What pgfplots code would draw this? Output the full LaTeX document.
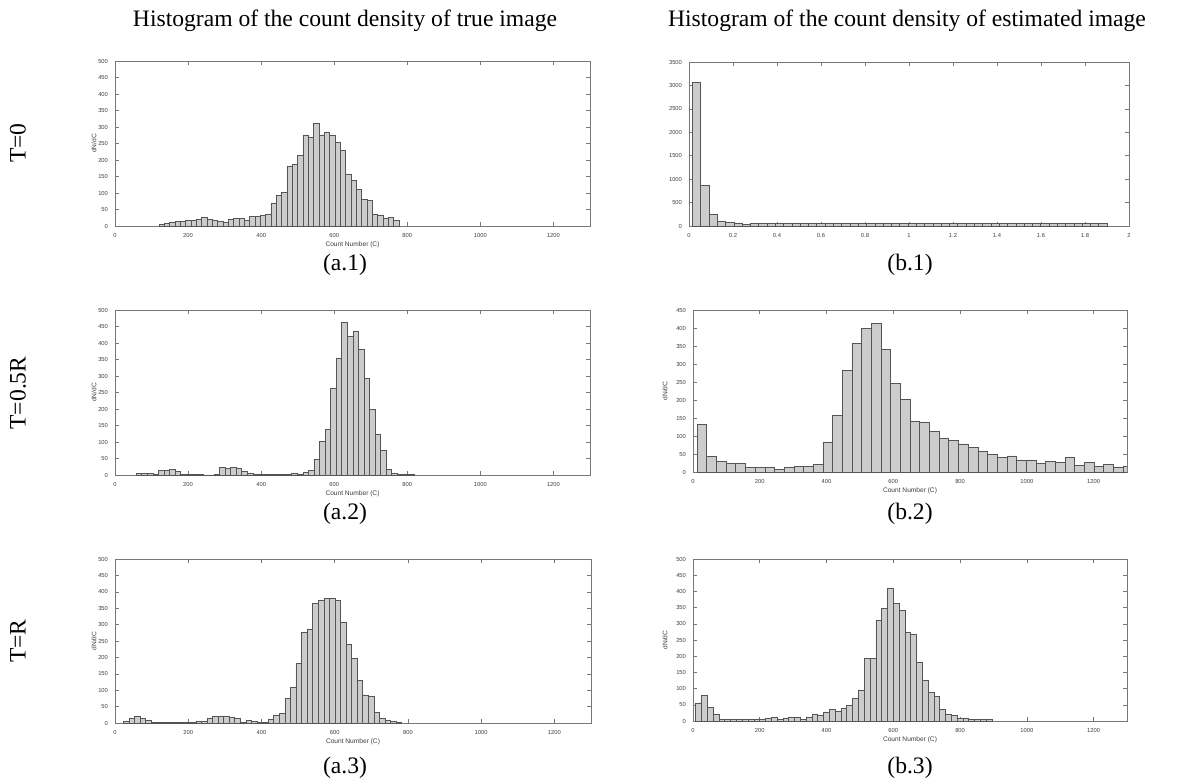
\documentclass[border=0pt]{standalone}
\usepackage{pgfplots}
\pgfplotsset{compat=1.18}
\usepackage{pgfplotstable}
\usepackage{fontspec}
\setmainfont{Liberation Serif}
\newfontfamily\ticksf{Liberation Sans}

\definecolor{barfill}{RGB}{204,204,204}
\definecolor{baredge}{RGB}{85,85,85}
\definecolor{axcol}{RGB}{120,120,120}
\definecolor{lblcol}{RGB}{60,60,60}

% histogram bins: left edge x, count y (last row closes the final bin)
\pgfplotstableread{
x y
120 4
134.6 7
149.2 11
163.8 15
178.4 13
193 16
207.6 18
222.2 20
236.8 26
251.4 21
266 16
280.6 14
295.2 10
309.8 20
324.4 22
339 22
353.6 16
368.2 30
382.8 30
397.4 32
412 37
426.6 70
441.2 92
455.8 103
470.4 182
485 187
499.6 213
514.2 276
528.8 270
543.4 312
558 276
572.6 285
587.2 274
601.8 253
616.4 230
631 158
645.6 139
660.2 110
674.8 80
689.4 77
704 37
718.6 34
733.2 24
747.8 26
762.4 16
777 0
}\tabAone

\pgfplotstableread{
x y
0.015 3058
0.0527 868
0.0904 245
0.1281 110
0.1658 88
0.2035 65
0.2412 38
0.2789 50
0.3166 50
0.3543 50
0.392 50
0.4297 50
0.4674 65
0.5051 50
0.5428 60
0.5805 60
0.6182 65
0.6559 65
0.6936 65
0.7313 65
0.769 65
0.8067 65
0.8444 65
0.8821 65
0.9198 65
0.9575 65
0.9952 65
1.0329 60
1.0706 60
1.1083 60
1.146 60
1.1837 60
1.2214 60
1.2591 50
1.2968 50
1.3345 50
1.3722 50
1.4099 50
1.4476 50
1.4853 50
1.523 50
1.5607 50
1.5984 50
1.6361 50
1.6738 50
1.7115 50
1.7492 50
1.7869 65
1.8246 50
1.8623 50
1.9 0
}\tabBone

\pgfplotstableread{
x y
58 6
73.2 6
88.4 6
103.6 2
118.8 15
134 15
149.2 16
164.4 12
179.6 2
194.8 2
210 2
225.2 1
240.4 0.5
255.6 0.5
270.8 1
286 24
301.2 20
316.4 24
331.6 20
346.8 12
362 5
377.2 1
392.4 1
407.6 1
422.8 1
438 1
453.2 2
468.4 1
483.6 6
498.8 2
514 8
529.2 15
544.4 47
559.6 102
574.8 138
590 263
605.2 353
620.4 462
635.6 420
650.8 437
666 380
681.2 292
696.4 200
711.6 125
726.8 74
742 18
757.2 5
772.4 3
787.6 2
802.8 2
818 0
}\tabAtwo

\pgfplotstableread{
x y
12 132
41 43
70 30
99 23
128 23
157 12
186 13
215 13
244 8
273 12
302 16
331 17
360 22
389 84
418 157
447 283
476 357
505 398
534 413
563 340
592 246
621 201
650 142
679 137
708 112
737 94
766 88
795 78
824 69
853 58
882 48
911 41
940 45
969 34
998 34
1027 23
1056 30
1085 27
1114 41
1143 19
1172 27
1201 16
1230 22
1259 14
1288 17
1317 0
}\tabBtwo

\pgfplotstableread{
x y
23 6
38.2 15
53.4 20
68.6 15
83.8 8
99 2
114.2 1
129.4 1
144.6 1
159.8 1
175 1
190.2 1
205.4 1
220.6 6
235.8 6
251 16
266.2 20
281.4 22
296.6 22
311.8 17
327 14
342.2 3
357.4 8
372.6 5
387.8 2
403 2
418.2 10
433.4 24
448.6 30
463.8 77
479 110
494.2 182
509.4 277
524.6 287
539.8 365
555 374
570.2 380
585.4 380
600.6 374
615.8 308
631 240
646.2 197
661.4 130
676.6 86
691.8 82
707 32
722.2 16
737.4 7
752.6 5
767.8 2
783 0
}\tabAthree

\pgfplotstableread{
x y
8 56
25.4 80
42.8 43
60.2 22
77.6 5
95 5
112.4 5
129.8 5
147.2 5
164.6 5
182 5
199.4 5
216.8 7
234.2 13
251.6 6
269 10
286.4 13
303.8 13
321.2 6
338.6 13
356 22
373.4 18
390.8 28
408.2 37
425.6 30
443 40
460.4 48
477.8 69
495.2 96
512.6 193
530 193
547.4 311
564.8 348
582.2 410
599.6 362
617 343
634.4 275
651.8 268
669.2 180
686.6 127
704 88
721.4 76
738.8 37
756.2 22
773.6 18
791 10
808.4 10
825.8 6
843.2 6
860.6 6
878 6
895.4 0
}\tabBthree

\pgfplotsset{
  hist/.style={
    scale only axis,
    anchor=south west,
    axis line style={draw=axcol, line width=0.3pt},
    tick style={draw=axcol, line width=0.3pt},
    tick align=inside,
    major tick length=2pt,
    xmin=0, ymin=0,
    scaled ticks=false,
    /pgf/number format/1000 sep={},
    /pgf/number format/assume math mode=true,
    tick label style={font=\ticksf\fontsize{2.9}{3}\selectfont, text=lblcol},
    label style={font=\ticksf\fontsize{3.3}{4}\selectfont, text=lblcol},
    xlabel style={yshift=4.5pt},
  },
  cnt/.style={hist, xmax=1300, xtick={0,200,400,600,800,1000,1200},
    xlabel={Count Number (C)}, ylabel={dN/dC}},
  left col/.style={ylabel style={yshift=-6pt}},
  right col/.style={ylabel style={yshift=-2.5pt}},
  bars/.style={ybar interval, fill=barfill, draw=baredge, line width=0.25pt},
}

\begin{document}
\begin{tikzpicture}
\useasboundingbox (0,0) rectangle (602pt,-391pt);

% column headings and row labels
\begin{scope}[every node/.style={font=\fontsize{11.8}{14}\selectfont, inner sep=0pt}]
\node at (172.5pt,-10.5pt) {Histogram of the count density of true image};
\node at (453.5pt,-10.5pt) {Histogram of the count density of estimated image};
\node[rotate=90] at (9pt,-71.5pt) {T=0};
\node[rotate=90] at (9pt,-196.5pt) {T=0.5R};
\node[rotate=90] at (9pt,-320.5pt) {T=R};
\node at (172.5pt,-132.5pt) {(a.1)};
\node at (455pt,-132.5pt) {(b.1)};
\node at (172.5pt,-257pt) {(a.2)};
\node at (455pt,-257pt) {(b.2)};
\node at (172.5pt,-384pt) {(a.3)};
\node at (455pt,-384pt) {(b.3)};
\end{scope}

% (a.1)
\begin{axis}[cnt, left col, at={(57.5pt,-113pt)}, width=237.5pt, height=82.5pt,
  ymax=500, ytick={0,50,...,500}]
\addplot[bars] table {\tabAone};
\end{axis}

% (b.1)
\begin{axis}[hist, at={(344.5pt,-113pt)}, width=220pt, height=82pt,
  xmax=2, ymax=3500,
  xtick={0,0.2,0.4,0.6,0.8,1,1.2,1.4,1.6,1.8,2},
  ytick={0,500,1000,1500,2000,2500,3000,3500}]
\addplot[bars] table {\tabBone};
\node[anchor=north west, inner sep=0pt, text=lblcol,
  font=\ticksf\fontsize{2.6}{3}\selectfont]
  at (rel axis cs:1,0) [xshift=1pt, yshift=-5pt] {$\times10^{4}$};
\end{axis}

% (a.2)
\begin{axis}[cnt, left col, at={(57.5pt,-237.5pt)}, width=237.5pt, height=82.5pt,
  ymax=500, ytick={0,50,...,500}]
\addplot[bars] table {\tabAtwo};
\end{axis}

% (b.2)
\begin{axis}[cnt, right col, at={(346.5pt,-236pt)}, width=217pt, height=81pt,
  ymax=450, ytick={0,50,...,450}]
\addplot[bars] table {\tabBtwo};
\end{axis}

% (a.3)
\begin{axis}[cnt, left col, at={(57.5pt,-361.5pt)}, width=238pt, height=82pt,
  ymax=500, ytick={0,50,...,500}]
\addplot[bars] table {\tabAthree};
\end{axis}

% (b.3)
\begin{axis}[cnt, right col, at={(346.5pt,-360.5pt)}, width=217pt, height=81pt,
  ymax=500, ytick={0,50,...,500}]
\addplot[bars] table {\tabBthree};
\end{axis}
\end{tikzpicture}
\end{document}
